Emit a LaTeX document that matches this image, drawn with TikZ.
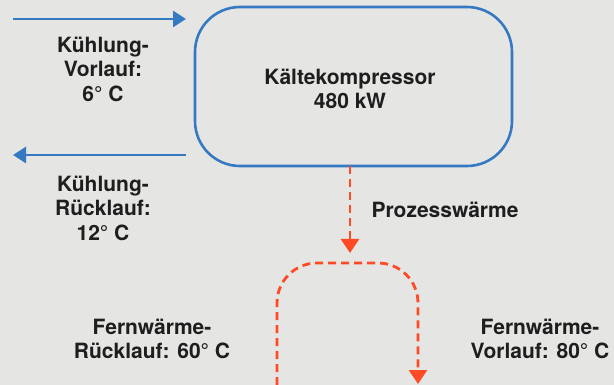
\documentclass[tikz,border=0pt]{standalone}
\usepackage{fontspec}
\setmainfont{TeX Gyre Heros}
\usetikzlibrary{arrows.meta}
\definecolor{bg}{HTML}{E5E5E3}
\definecolor{pipeblue}{HTML}{3579C2}
\definecolor{heatred}{HTML}{FF4A26}
\definecolor{txt}{HTML}{1E1E1E}
\tikzset{
  lbl/.style={text=txt, align=center, inner sep=0pt, font=\bfseries\fontsize{21}{24.5}\selectfont},
  bluearrow/.style={draw=pipeblue, line width=2.8pt, -{Triangle[length=13pt,width=16pt]}},
  redline/.style={draw=heatred, line width=2.8pt, dash pattern=on 8pt off 5pt},
  redarrow/.style={redline, -{Triangle[length=14pt,width=18pt]}},
  compbox/.style={draw=pipeblue, line width=2.6pt, rounded corners=45pt, minimum width=317pt, minimum height=159pt, inner sep=0pt}
}
\begin{document}
\begin{tikzpicture}[x=1pt,y=-1pt]
\fill[bg] (0,0) rectangle (614,385);
\useasboundingbox (0,0) rectangle (614,385);
\node[compbox] (comp) at (353.5,86.5) {};
\node[lbl] (comptext) at (350,89) {Kältekompressor\\480 kW};
\coordinate (vlstart) at (13,19);
\coordinate (vlend) at (186,19);
\coordinate (rlstart) at (186,155);
\coordinate (rlend) at (13,155);
\draw[bluearrow] (vlstart) -- (vlend);
\draw[bluearrow] (rlstart) -- (rlend);
\node[lbl] (vl) at (103,69) {Kühlung-\\Vorlauf:\\6° C};
\node[lbl] (rl) at (103,208) {Kühlung-\\Rücklauf:\\12° C};
\coordinate (pwtop) at (350,166);
\coordinate (pwend) at (350,253);
\draw[redarrow] (pwtop) -- (pwend);
\node[lbl] (pw) at (445,210) {Prozesswärme};
\coordinate (fwl) at (277,385);
\coordinate (fwltop) at (277,263);
\coordinate (fwrtop) at (418,263);
\coordinate (fwr) at (418,384);
\draw[redarrow, rounded corners=40pt] (fwl) -- (fwltop) -- (fwrtop) -- (fwr);
\node[lbl] (fwrl) at (152,339) {Fernwärme-\\Rücklauf: 60° C};
\node[lbl] (fwvl) at (540,339) {Fernwärme-\\Vorlauf: 80° C};
\end{tikzpicture}
\end{document}
